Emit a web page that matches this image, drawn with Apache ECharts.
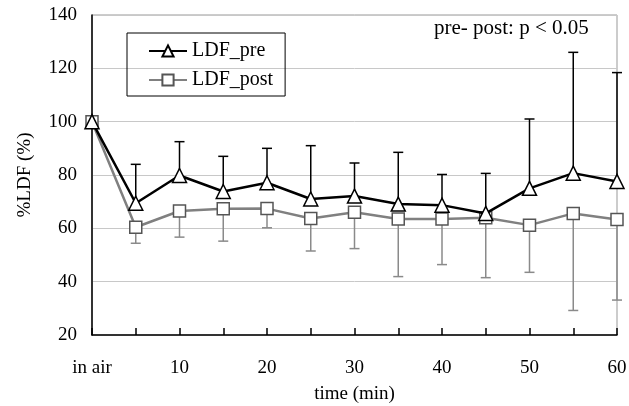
<!DOCTYPE html>
<html>
<head>
<meta charset="utf-8">
<script src="https://cdn.jsdelivr.net/npm/echarts@6/dist/echarts.min.js"></script>
<style>
html, body { margin: 0; background: #fff; }
#main { width: 629px; height: 406px; }
</style>
</head>
<body>
<div id="main"></div>
<script>
// time points (min)
var categories = ['in air', '5', '10', '15', '20', '25', '30', '35', '40', '45', '50', '55', '60'];
// LDF_pre mean and upper error bar end
var preMean  = [100, 69.4, 79.8, 73.8, 77.1, 71, 72.1, 69.1, 68.7, 65.6, 75, 80.7, 77.6];
var preUpper = [null, 84, 92.5, 87, 90, 91, 84.5, 88.5, 80.2, 80.6, 101, 126, 118.4];
// LDF_post mean and lower error bar end
var postMean  = [100, 60.4, 66.5, 67.3, 67.4, 63.7, 66, 63.5, 63.5, 64, 61.2, 65.6, 63.3];
var postLower = [null, 54.4, 56.7, 55.2, 60.2, 51.5, 52.4, 41.9, 46.4, 41.5, 43.5, 29.2, 33.1];

var fontName = '"Liberation Serif", "Times New Roman", serif';

function barData(mean, end) {
    var out = [];
    for (var i = 0; i < mean.length; i++) {
        if (end[i] != null) out.push([i, mean[i], end[i]]);
    }
    return out;
}

// vertical line from mean to end, with a small cap at the end
function errorBar(color, cap) {
    return function (params, api) {
        var x = api.value(0);
        var a = api.coord([x, api.value(1)]);
        var b = api.coord([x, api.value(2)]);
        var st = { stroke: color, lineWidth: 1.5 };
        return {
            type: 'group',
            children: [
                { type: 'line', shape: { x1: a[0], y1: a[1], x2: b[0], y2: b[1] }, style: st },
                { type: 'line', shape: { x1: b[0] - cap, y1: b[1], x2: b[0] + cap, y2: b[1] }, style: st }
            ]
        };
    };
}

var myChart = echarts.init(document.getElementById('main'));

var option = {
    animation: false,
    textStyle: { fontFamily: fontName, color: '#000' },
    grid: {
        left: 92, right: 12, top: 15, bottom: 71,
        containLabel: false,
        outerBoundsMode: 'none',
        show: true, borderColor: '#999', borderWidth: 1
    },
    legend: {
        data: ['LDF_pre', 'LDF_post'],
        orient: 'vertical',
        left: 127, top: 33,
        padding: [8, 12, 6, 21],
        itemWidth: 38, itemHeight: 14, itemGap: 9,
        borderColor: '#000', borderWidth: 1,
        textStyle: { fontFamily: fontName, fontSize: 20, color: '#000' }
    },
    graphic: [{
        type: 'text',
        left: 434, top: 18,
        style: { text: 'pre- post: p < 0.05', font: '21px ' + fontName, fill: '#000' }
    }],
    xAxis: {
        type: 'category',
        data: categories,
        boundaryGap: false,
        name: 'time (min)',
        nameLocation: 'middle',
        nameGap: 50,
        nameTextStyle: { fontFamily: fontName, fontSize: 19, color: '#000' },
        axisLine: { lineStyle: { color: '#000', width: 1.5 } },
        axisTick: { inside: true, length: 7, interval: 0, lineStyle: { color: '#000', width: 1.5 } },
        axisLabel: { interval: 1, margin: 24, fontFamily: fontName, fontSize: 19, color: '#000' },
        splitLine: { show: false }
    },
    yAxis: {
        type: 'value',
        min: 20, max: 140, interval: 20,
        name: '%LDF (%)',
        nameLocation: 'middle',
        nameGap: 57,
        nameTextStyle: { fontFamily: fontName, fontSize: 19, color: '#000' },
        axisLine: { show: true, lineStyle: { color: '#000', width: 1.5 } },
        axisTick: { show: false },
        axisLabel: { margin: 15, fontFamily: fontName, fontSize: 19, color: '#000' },
        splitLine: { lineStyle: { color: '#c8c8c8', width: 1 } }
    },
    series: [
        {
            name: 'pre bars',
            type: 'custom',
            renderItem: errorBar('#000', 5),
            data: barData(preMean, preUpper),
            z: 1
        },
        {
            name: 'post bars',
            type: 'custom',
            renderItem: errorBar('#8a8a8a', 5),
            data: barData(postMean, postLower),
            z: 1
        },
        {
            name: 'LDF_post',
            type: 'line',
            data: postMean,
            symbol: 'rect',
            symbolSize: 12,
            lineStyle: { color: '#808080', width: 2.5 },
            itemStyle: { color: '#fff', borderColor: '#555', borderWidth: 1.5 },
            z: 3
        },
        {
            name: 'LDF_pre',
            type: 'line',
            data: preMean,
            symbol: 'triangle',
            symbolSize: 14,
            lineStyle: { color: '#000', width: 2.5 },
            itemStyle: { color: '#fff', borderColor: '#000', borderWidth: 1.5 },
            z: 4
        }
    ]
};

myChart.setOption(option);
</script>
</body>
</html>
